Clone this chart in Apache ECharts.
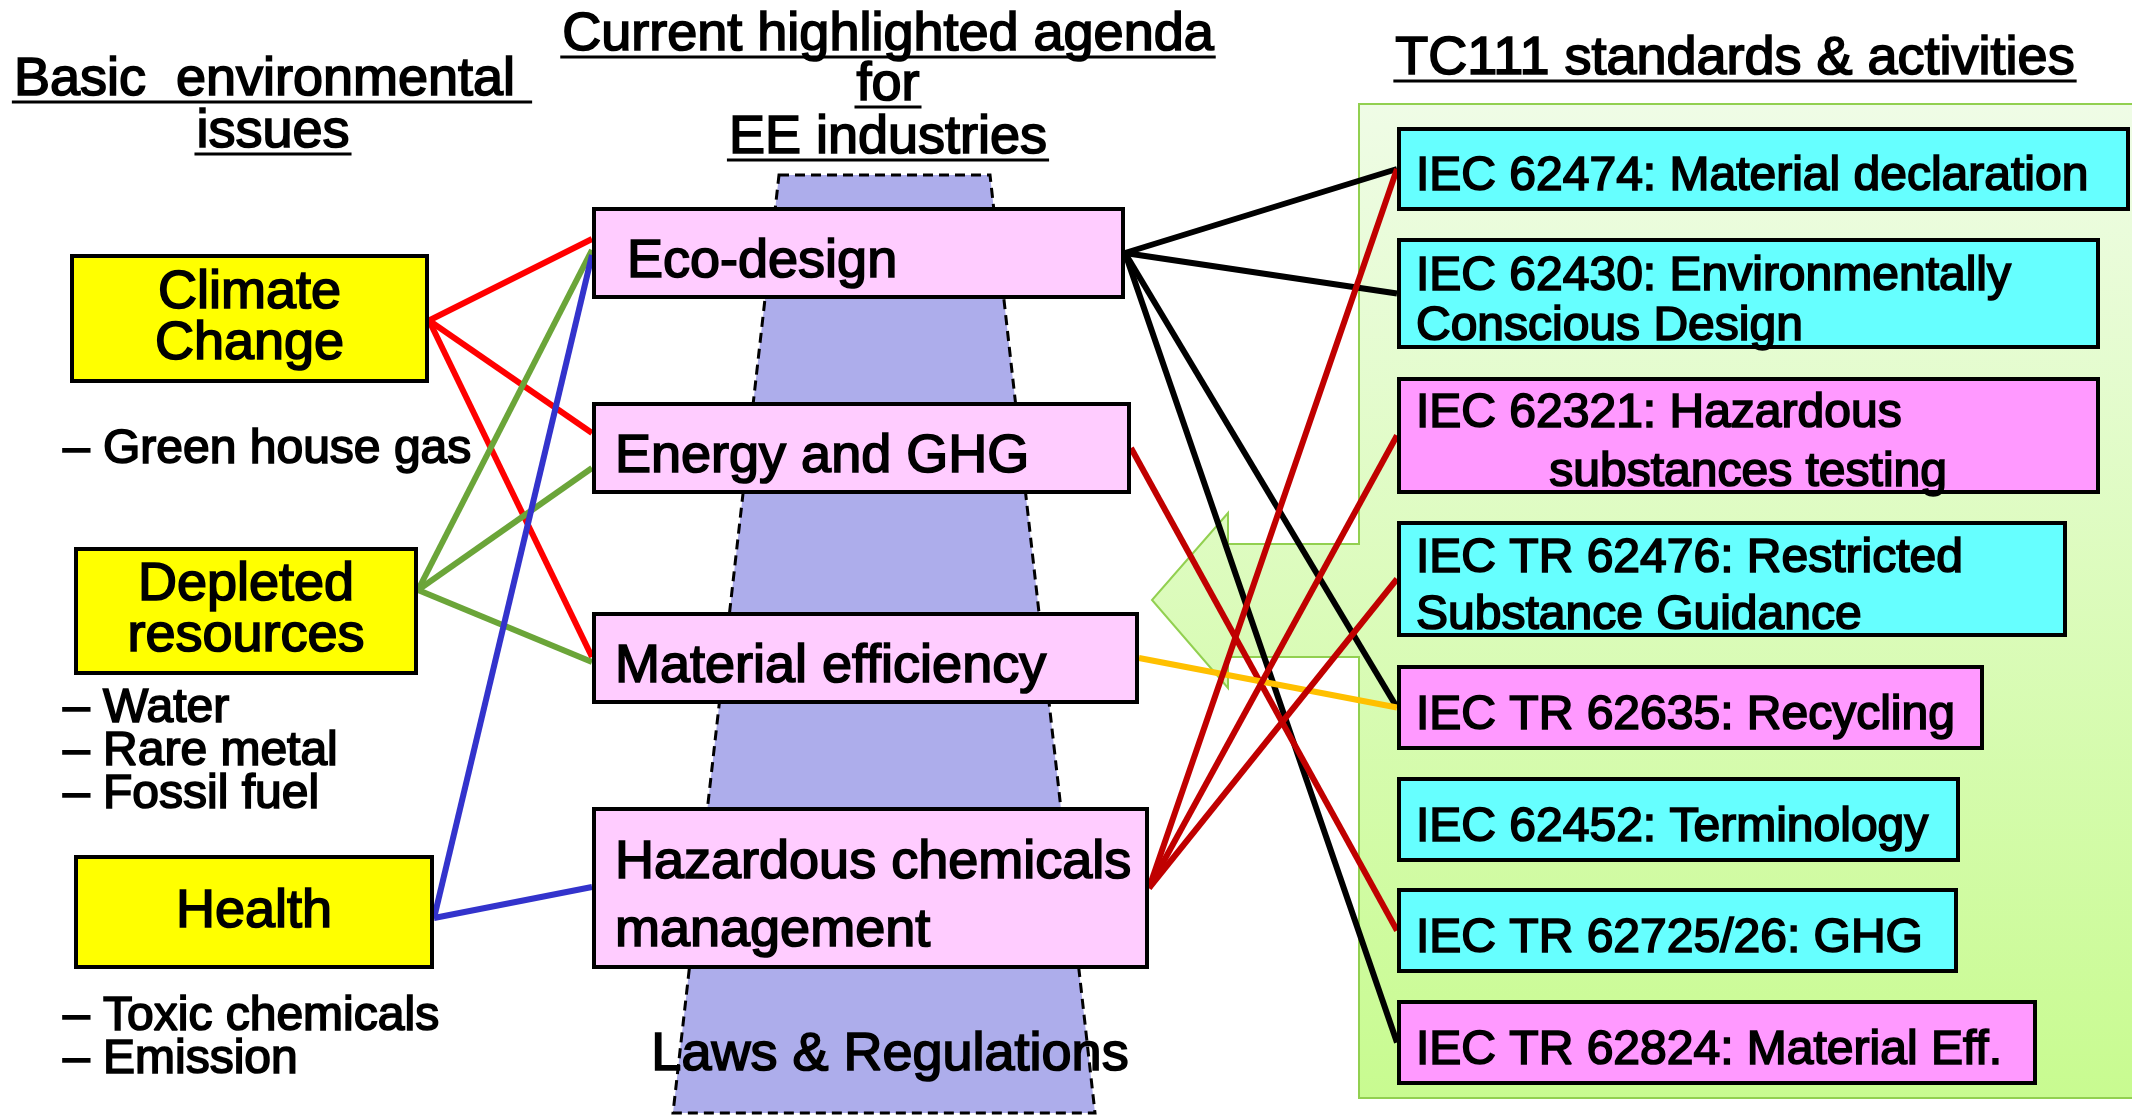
<!DOCTYPE html>
<html>
<head>
<meta charset="utf-8">
<title>TC111 standards and the environmental agenda</title>
<script src="https://cdn.jsdelivr.net/npm/echarts@6/dist/echarts.min.js"></script>
<style>
  html, body { margin: 0; padding: 0; background: #fff; }
  #main { width: 2132px; height: 1115px; }
</style>
</head>
<body>
<div id="main"></div>
<script>
// ---- data ----
const columnTitles = ['Basic  environmental ', 'issues', 'Current highlighted agenda', 'for', 'EE industries', 'TC111 standards & activities'];
const issueLabels = ['Climate\nChange', 'Depleted\nresources', 'Health'];
const issueNotes = ['– Green house gas', '– Water\n– Rare metal\n– Fossil fuel', '– Toxic chemicals\n– Emission'];
const agendaLabels = ['Eco-design', 'Energy and GHG', 'Material efficiency', 'Hazardous chemicals\nmanagement'];
const standardLabels = [
  'IEC 62474: Material declaration',
  'IEC 62430: Environmentally\nConscious Design',
  'IEC 62321: Hazardous\n          substances testing',
  'IEC TR 62476: Restricted\nSubstance Guidance',
  'IEC TR 62635: Recycling',
  'IEC 62452: Terminology',
  'IEC TR 62725/26: GHG',
  'IEC TR 62824: Material Eff.'
];
const standardHighlighted = [false, false, true, false, true, false, false, true];
const baseLabel = 'Laws & Regulations';
// [issue, agenda] and [agenda, standard]
const issueToAgenda = [[0, 0], [0, 1], [0, 2], [1, 0], [1, 1], [1, 2], [2, 0], [2, 3]];
const agendaToStandard = [[0, 0], [0, 1], [0, 4], [0, 7], [1, 6], [2, 4], [3, 0], [3, 2], [3, 3]];

// ---- layout (picture units, drawn through the hidden axes) ----
const issueBoxes = [[70, 254, 429, 383], [74, 547, 418, 675], [74, 855, 434, 969]];
const agendaBoxes = [[592, 207, 1125, 299], [592, 402, 1131, 494], [592, 612, 1139, 704], [592, 807, 1149, 969]];
const standardBoxes = [
  [1397, 127, 2130, 211], [1397, 238, 2100, 349], [1397, 377, 2100, 494], [1397, 521, 2067, 637],
  [1397, 665, 1984, 750], [1397, 777, 1960, 862], [1397, 888, 1958, 973], [1397, 1000, 2037, 1085]
];
const standardLineHeights = [48, 50, 59, 57, 48, 48, 48, 48];
const agendaTextPad = [35, 23, 23, 23];
const titlePos = [[272, 76], [273, 128], [888, 31], [888, 81], [888, 134], [1735, 55]];
const notePos = [[63, 446], [63, 748], [63, 1034]];
const basePos = [890, 1051];
const issueLinkOffsets = [[2, -14], [2, -15], [2, -1], [-21, -3], [-21, 20], [-21, 4], [6, 2], [6, -1]];
const panelOutline = [[1359, 104], [2140, 104], [2140, 1098], [1359, 1098], [1359, 657], [1228, 657],
  [1228, 688], [1152, 600], [1228, 513], [1228, 544], [1359, 544]];
const funnelOutline = [[779, 175], [990, 175], [1095, 1113], [673, 1113]];

const issueColors = ['#ff0000', '#6ba539', '#3333cc'];
const agendaColors = ['#000000', '#c00000', '#ffc000', '#c00000'];
const FONT = '"Liberation Sans", Arial, Helvetica, sans-serif';
const TEXT_DY = 4; // canvas middle sits a little above the cap centre

const measureCtx = document.createElement('canvas').getContext('2d');
function textWidth(str, size) {
  measureCtx.font = size + 'px ' + FONT;
  return measureCtx.measureText(str).width;
}

function textEl(api, str, x, y, size, align, lineHeight) {
  const p = api.coord([x, y + TEXT_DY]);
  return {
    type: 'text',
    x: p[0],
    y: p[1],
    style: {
      text: str,
      fill: '#000',
      stroke: '#000',
      lineWidth: 1.7,
      fontFamily: FONT,
      fontSize: size,
      lineHeight: lineHeight || size,
      align: align,
      verticalAlign: 'middle'
    }
  };
}

function mid(box) { return (box[1] + box[3]) / 2; }

// boxes
const boxDefs = [];
issueBoxes.forEach((b, i) => boxDefs.push({
  box: b, fill: '#ffff00', text: issueLabels[i],
  tx: (b[0] + b[2]) / 2, ty: mid(b) - 4, size: 54, lh: 51, align: 'center'
}));
agendaBoxes.forEach((b, i) => boxDefs.push({
  box: b, fill: '#ffccff', text: agendaLabels[i],
  tx: b[0] + agendaTextPad[i], ty: mid(b) + 5, size: 54, lh: 68, align: 'left'
}));
standardBoxes.forEach((b, i) => boxDefs.push({
  box: b, fill: standardHighlighted[i] ? '#ff99ff' : '#66ffff', text: standardLabels[i],
  tx: b[0] + 19, ty: mid(b) + 4, size: 48, lh: standardLineHeights[i], align: 'left'
}));

// links
const linkDefs = [];
issueToAgenda.forEach((l, i) => {
  const s = issueBoxes[l[0]], t = agendaBoxes[l[1]];
  linkDefs.push({
    from: [s[2], mid(s) + issueLinkOffsets[i][0]],
    to: [t[0], mid(t) + issueLinkOffsets[i][1]],
    color: issueColors[l[0]]
  });
});
agendaToStandard.forEach((l) => {
  const s = agendaBoxes[l[0]], t = standardBoxes[l[1]];
  linkDefs.push({ from: [s[2], mid(s)], to: [t[0], mid(t)], color: agendaColors[l[0]] });
});

const chart = echarts.init(document.getElementById('main'));

const option = {
  animation: false,
  backgroundColor: '#ffffff',
  grid: { left: 0, right: 0, top: 0, bottom: 0 },
  xAxis: { type: 'value', min: 0, max: 2132, show: false },
  yAxis: { type: 'value', min: 0, max: 1115, inverse: true, show: false },
  series: [
    {
      name: 'backdrop',
      type: 'custom',
      coordinateSystem: 'cartesian2d',
      silent: true,
      z: 1,
      data: [[0, 0]],
      renderItem: (params, api) => ({
        type: 'group',
        children: [
          {
            type: 'polygon',
            shape: { points: panelOutline.map((p) => api.coord(p)) },
            style: {
              fill: new echarts.graphic.LinearGradient(0, 0, 0, 1, [
                { offset: 0, color: '#effce6' },
                { offset: 1, color: '#c8fb90' }
              ]),
              stroke: '#92d050',
              lineWidth: 2
            }
          },
          {
            type: 'polygon',
            shape: { points: funnelOutline.map((p) => api.coord(p)) },
            style: { fill: '#adadeb', stroke: '#000', lineWidth: 3, lineDash: [10, 6] }
          }
        ]
      })
    },
    {
      name: 'links',
      type: 'custom',
      coordinateSystem: 'cartesian2d',
      silent: true,
      z: 3,
      data: linkDefs.map((l) => [l.from[0], l.from[1]]),
      renderItem: (params, api) => {
        const l = linkDefs[params.dataIndex];
        const a = api.coord(l.from), b = api.coord(l.to);
        return {
          type: 'line',
          shape: { x1: a[0], y1: a[1], x2: b[0], y2: b[1] },
          style: { stroke: l.color, lineWidth: 6 }
        };
      }
    },
    {
      name: 'boxes',
      type: 'custom',
      coordinateSystem: 'cartesian2d',
      silent: true,
      z: 4,
      data: boxDefs.map((d) => [d.box[0], d.box[1]]),
      renderItem: (params, api) => {
        const d = boxDefs[params.dataIndex];
        const a = api.coord([d.box[0], d.box[1]]), b = api.coord([d.box[2], d.box[3]]);
        return {
          type: 'group',
          children: [
            {
              type: 'rect',
              shape: { x: a[0] + 2, y: a[1] + 2, width: b[0] - a[0] - 4, height: b[1] - a[1] - 4 },
              style: { fill: d.fill, stroke: '#000', lineWidth: 4 }
            },
            textEl(api, d.text, d.tx, d.ty, d.size, d.align, d.lh)
          ]
        };
      }
    },
    {
      name: 'texts',
      type: 'custom',
      coordinateSystem: 'cartesian2d',
      silent: true,
      z: 5,
      data: [[0, 0]],
      renderItem: (params, api) => {
        const children = [];
        columnTitles.forEach((t, i) => {
          const [cx, cy] = titlePos[i];
          const w = textWidth(t, 54);
          children.push(textEl(api, t, cx, cy, 54, 'center'));
          const a = api.coord([cx - w / 2 - 2, cy + 26]), b = api.coord([cx + w / 2 + 2, cy + 26]);
          children.push({
            type: 'line',
            shape: { x1: a[0], y1: a[1], x2: b[0], y2: b[1] },
            style: { stroke: '#000', lineWidth: 3 }
          });
        });
        issueNotes.forEach((t, i) => {
          children.push(textEl(api, t, notePos[i][0], notePos[i][1], 48, 'left', 43));
        });
        children.push(textEl(api, baseLabel, basePos[0], basePos[1], 54, 'center'));
        return { type: 'group', children };
      }
    }
  ]
};

chart.setOption(option);
window.addEventListener('resize', () => chart.resize());
</script>
</body>
</html>
